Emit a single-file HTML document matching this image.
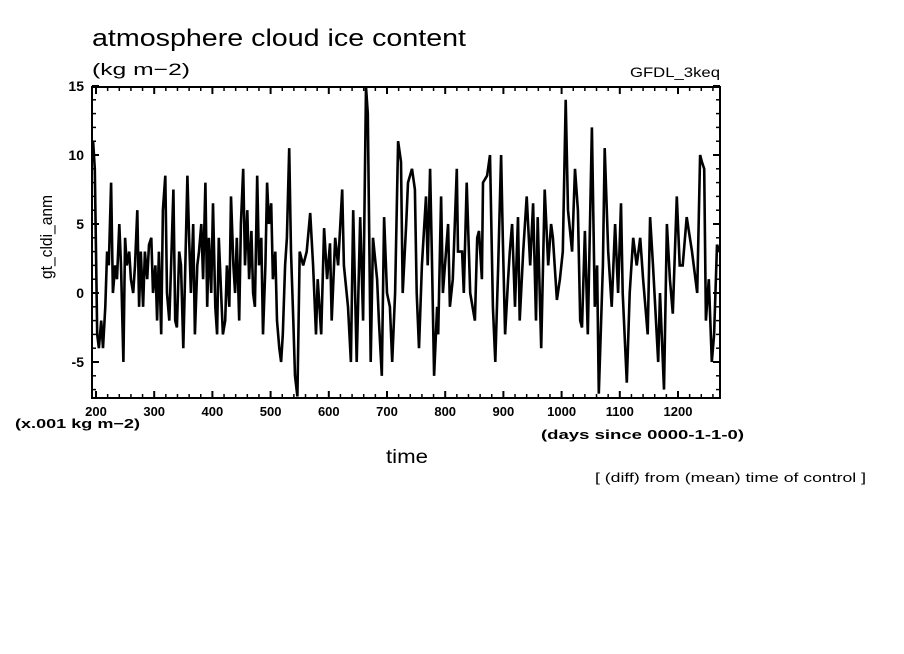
<!DOCTYPE html>
<html><head><meta charset="utf-8"><style>
body{margin:0;background:#fff;}
svg{display:block;font-family:"Liberation Sans",sans-serif;}
</style></head><body>
<svg width="904" height="654" viewBox="0 0 904 654">
<text x="92" y="46" font-size="24" textLength="374" lengthAdjust="spacingAndGlyphs">atmosphere cloud ice content</text>
<text x="92" y="75" font-size="17" textLength="98" lengthAdjust="spacingAndGlyphs">(kg m−2)</text>
<text x="720" y="77" font-size="14" text-anchor="end" textLength="90" lengthAdjust="spacingAndGlyphs">GFDL_3keq</text>
<text transform="translate(52,237) rotate(-90)" font-size="17" text-anchor="middle" textLength="84" lengthAdjust="spacingAndGlyphs">gt_cldi_anm</text>
<text x="15" y="428" font-size="13" font-weight="bold" textLength="125" lengthAdjust="spacingAndGlyphs">(x.001 kg m−2)</text>
<text x="541" y="439" font-size="13" font-weight="bold" textLength="203" lengthAdjust="spacingAndGlyphs">(days since 0000-1-1-0)</text>
<text x="386" y="463" font-size="19" textLength="42" lengthAdjust="spacingAndGlyphs">time</text>
<text x="595" y="482" font-size="12.5" textLength="271" lengthAdjust="spacingAndGlyphs">[ (diff) from (mean) time of control ]</text>
<g id="axes"></g>
<g id="series"></g>
<rect x="92" y="87" width="628" height="311" fill="none" stroke="#000" stroke-width="2"/>
</svg>
<script>
const xTicks=[200,300,400,500,600,700,800,900,1000,1100,1200];
const yTicks=[-5,0,5,10,15];
const days1=[195,198,202,205,209,212,216,219,222,226,229,233,236,240,243,247,250,253,257,260,264,267,271,274,277,281,284,288,291,295,298,302,305,308,312,315,319,322,326,329,333,336,339,343,346,350,353,357,360,363,367,370,374,377,381,384,388,391,394,398,401,405,408,411,415,418,422,425,429,432,436,439,442,446,449,453,456,460,463,467,470,473,477,480,484,487,491,494,497,501,504,508,511,515,518,521,525,528,532,535,539,542,546];
const vals1=[11,9,-3,-4,-2,-4,-1,3,2,8,0,2,1,5,2,-5,4,2,3,1,0,2,6,-1,3,-1,3,1,3.5,4,0,2,-2,3,-3,6,8.5,0,-2,2,7.5,-2,-2.5,3,2,-4,1,8.5,4,0,5,-3,2,3,5,1,8,-1,4,0,6.5,-1,-3,4,0,-3,-2,2,-1,7,2,0,4,-2,5,9,2,6,1,4.5,0,-1,8.5,2,4,-3,2,8,5,6.5,1,3,-2,-4,-5,-3,2,4,10.5,3,-2,-6,-7.5];
const days2=[550,556,562,568,573,578,581,587,592,597,602,605,611,616,623,626,633,638,642,648,654,659,664,667,672,676,683,686,691,695,700,705,709,714,719,724,727,733,736,743,748,751,755,760,767,770,774,777,781,786,788,793,796,805,808,813,820,822,829,832,837,843,851,855,858,863,865,872,877,882,886,891,896,899,903,908];
const vals2=[3,2,3,5.8,2,-3,1,-3,4.7,1,3.6,-2,4,2,7.5,2,-1,-5,6,-5,5.5,-2,15,13,-5,4,1,-2,-6,5.5,0,-1,-5,0,11,9.5,0,5,8,9,7.5,0,-4,2,7,2,9,3,-6,-1,-3,7,0,5,-1,1,9,3,3,0,8,0,-2,4,4.5,1,8,8.5,10,-1,-5,2,10,4,-3,1];
const days3=[911,915,920,925,928,934,940,946,951,956,959,965,971,977,982,985,992,997,1002,1007,1011,1018,1023,1028,1032,1035,1040,1045,1052,1057,1061,1064,1071,1074,1080,1086,1092,1097,1102,1105,1112,1117,1123,1129,1135,1140,1148,1152,1157,1166,1169,1176,1181,1186,1191,1198,1203,1208,1215,1224,1233,1238,1241,1245,1248,1253,1258,1262,1267,1272];
const vals3=[3,5,-1,5.5,-2,3,7,2,6.5,-2,5.5,-4,7.5,2,5,4,-0.5,1,3,14,6,3,9,6,-2,-2.5,4.5,-3,12,-1,2,-7.3,2,10.5,3,-1,5,0,6.5,0,-6.5,0,4,2,4,1,-3,5.5,2,-5,0,-7,5,1,-1.5,7,2,2,5.5,3,0,10,9.5,9,-2,1,-5,-3,3.5,3];
const X0=92,X1=720,Y0=87,Y1=398;
function xs(d){return 96+(d-200)*0.582;}
function ys(v){return 293-v*13.8;}
const NS='http://www.w3.org/2000/svg';
const ax=document.getElementById('axes');
function mk(tag,attrs,parent){const e=document.createElementNS(NS,tag);for(const k in attrs)e.setAttribute(k,attrs[k]);parent.appendChild(e);return e;}
for(let d=200;d<=1260;d+=20){
  const x=xs(d);const major=(d%100===0);const L=major?7:4;
  const t1=mk('line',{x1:x,x2:x,y1:Y1,y2:Y1-L,stroke:'#000','stroke-width':major?2:1.5},ax);
  
  
  const t2=mk('line',{x1:x,x2:x,y1:Y0,y2:Y0+L,stroke:'#000','stroke-width':major?2:1.5},ax);
  
  
}
xTicks.forEach(d=>{
  const t=mk('text',{x:xs(d),y:416,'font-size':13,'text-anchor':'middle','font-weight':'bold'},ax);t.textContent=d;
  
  
});
for(let v=-7;v<=15;v++){
  const y=ys(v);const major=(v%5===0);const L=major?7:4;
  const t1=mk('line',{x1:X0,x2:X0+L,y1:y,y2:y,stroke:'#000','stroke-width':major?2:1.5},ax);
  
  
  const t2=mk('line',{x1:X1,x2:X1-L,y1:y,y2:y,stroke:'#000','stroke-width':major?2:1.5},ax);
  
  
}
yTicks.forEach(v=>{
  const t=mk('text',{x:84,y:ys(v)+5,'font-size':14,'text-anchor':'end','font-weight':'bold'},ax);t.textContent=v;
  
  
});
const pts=[];
[[days1,vals1],[days2,vals2],[days3,vals3]].forEach(([ds,vs])=>{
  const n=Math.min(ds.length,vs.length);
  for(let i=0;i<n;i++)pts.push([xs(ds[i]),Math.max(Y0,Math.min(Y1,ys(vs[i])))]);
});
const line=mk('polyline',{points:pts.map(p=>p[0].toFixed(1)+','+p[1].toFixed(1)).join(' '),fill:'none',stroke:'#000','stroke-width':2.6,'stroke-linejoin':'miter'},document.getElementById('series'));


</script>
</body></html>
